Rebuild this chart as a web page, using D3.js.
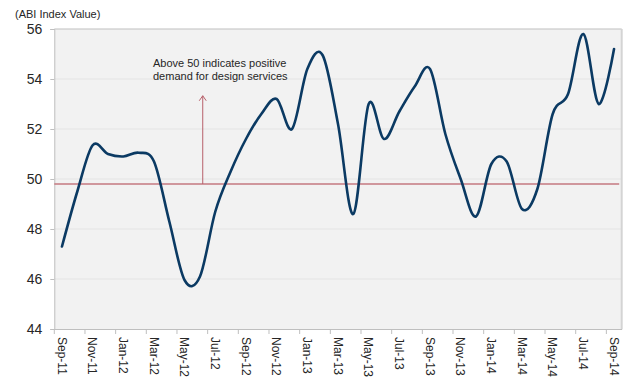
<!DOCTYPE html>
<html>
<head>
<meta charset="utf-8">
<script src="https://cdn.jsdelivr.net/npm/d3@7"></script>
<style>
	body { margin: 0; background: #fff; }
	svg { display: block; }
	.y.axis text { font-family: "Liberation Sans", Arial, sans-serif; font-size: 14px; fill: #262626; }
	.x.axis text { font-family: "Liberation Sans", Arial, sans-serif; font-size: 12px; fill: #262626; }
	.note { font-family: "Liberation Sans", Arial, sans-serif; font-size: 11px; fill: #262626; }
</style>
</head>
<body>
<div id="chart"></div>
<script>

// monthly categories
var months = ["Sep-11", "Oct-11", "Nov-11", "Dec-11", "Jan-12", "Feb-12", "Mar-12", "Apr-12",
	"May-12", "Jun-12", "Jul-12", "Aug-12", "Sep-12", "Oct-12", "Nov-12", "Dec-12",
	"Jan-13", "Feb-13", "Mar-13", "Apr-13", "May-13", "Jun-13", "Jul-13", "Aug-13",
	"Sep-13", "Oct-13", "Nov-13", "Dec-13", "Jan-14", "Feb-14", "Mar-14", "Apr-14",
	"May-14", "Jun-14", "Jul-14", "Aug-14", "Sep-14"];

// ABI index value
var abiValues = [47.3, 49.5, 51.35, 51.0, 50.9, 51.05, 50.7, 48.3,
	45.95, 46.1, 48.7, 50.3, 51.6, 52.6, 53.2, 52.0,
	54.4, 54.95, 52.2, 48.6, 53.0, 51.6, 52.7, 53.7,
	54.4, 51.8, 50.0, 48.5, 50.6, 50.7, 48.8, 49.6,
	52.6, 53.4, 55.8, 53.0, 55.2];

// every other month gets a tick label
var tickLabels = ["Sep-11", "Nov-11", "Jan-12", "Mar-12", "May-12", "Jul-12", "Sep-12",
	"Nov-12", "Jan-13", "Mar-13", "May-13", "Jul-13", "Sep-13", "Nov-13", "Jan-14",
	"Mar-14", "May-14", "Jul-14", "Sep-14"];

var yTicks = [44, 46, 48, 50, 52, 54, 56];
var thresholdValue = 49.8;

var noteLines = ["Above 50 indicates positive", "demand for design services"];

var width = 629, height = 381;
var margin = {top: 29, right: 7.3, bottom: 52, left: 54.3};

var svg = d3.select("#chart").append("svg")
	.attr("width", width)
	.attr("height", height);

var x = d3.scaleBand()
	.domain(months)
	.range([margin.left, width - margin.right])
	.padding(0);

var y = d3.scaleLinear()
	.domain([44, 56])
	.range([height - margin.bottom, margin.top]);

var bw = x.bandwidth();

// plot area background
svg.append("rect")
	.attr("x", margin.left)
	.attr("y", margin.top)
	.attr("width", width - margin.left - margin.right)
	.attr("height", height - margin.top - margin.bottom)
	.attr("fill", "#f2f2f2");

// gridlines
svg.append("g")
	.selectAll("line")
	.data(yTicks.slice(1, -1))
	.enter()
	.append("line")
	.attr("x1", margin.left)
	.attr("x2", width - margin.right)
	.attr("y1", function(d) { return y(d); })
	.attr("y2", function(d) { return y(d); })
	.attr("stroke", "#e4e4e4")
	.attr("stroke-width", 1);

// top and right border
svg.append("line")
	.attr("x1", margin.left).attr("x2", width - margin.right)
	.attr("y1", margin.top).attr("y2", margin.top)
	.attr("stroke", "#bfbfbf");
svg.append("line")
	.attr("x1", width - margin.right).attr("x2", width - margin.right)
	.attr("y1", margin.top).attr("y2", height - margin.bottom)
	.attr("stroke", "#d4d4d4")
	.attr("stroke-width", 2);

// y axis
var yAxis = d3.axisLeft(y).tickValues(yTicks).tickSize(4).tickPadding(8);
var yG = svg.append("g")
	.attr("class", "y axis")
	.attr("transform", "translate(" + margin.left + ",0)")
	.call(yAxis);
yG.select(".domain").attr("stroke", "#bfbfbf");
yG.selectAll(".tick line").attr("stroke", "#bfbfbf");

// x axis: ticks on category boundaries, labels centred on the month
var xAxis = d3.axisBottom(x).tickValues(tickLabels).tickSize(5).tickPadding(0).tickSizeOuter(0);
var xG = svg.append("g")
	.attr("class", "x axis")
	.attr("transform", "translate(0," + (height - margin.bottom) + ")")
	.call(xAxis);
xG.select(".domain").attr("stroke", "#bfbfbf");
xG.selectAll(".tick line")
	.attr("stroke", "#bfbfbf")
	.attr("x1", -bw / 2)
	.attr("x2", -bw / 2);
xG.selectAll(".tick text")
	.attr("text-anchor", "start")
	.attr("transform", "translate(0,8) rotate(90)")
	.attr("x", 0)
	.attr("y", 0)
	.attr("dy", "0.35em");

// threshold line
svg.append("line")
	.attr("x1", margin.left)
	.attr("x2", width - margin.right - 2.5)
	.attr("y1", y(thresholdValue))
	.attr("y2", y(thresholdValue))
	.attr("stroke", "#c47880")
	.attr("stroke-width", 1.6);

// annotation arrow
var arrowX = x("Jun-12") + bw * 0.68;
var arrowTop = y(53.33);
svg.append("line")
	.attr("x1", arrowX).attr("x2", arrowX)
	.attr("y1", y(thresholdValue)).attr("y2", arrowTop)
	.attr("stroke", "#b8606a")
	.attr("stroke-width", 1);
svg.append("path")
	.attr("d", "M" + (arrowX - 3.5) + "," + (arrowTop + 5) + "L" + arrowX + "," + arrowTop + "L" + (arrowX + 3.5) + "," + (arrowTop + 5))
	.attr("fill", "none")
	.attr("stroke", "#b8606a")
	.attr("stroke-width", 1);

// annotation text
svg.append("text")
	.attr("class", "note")
	.attr("x", x("Mar-12") + 6.7)
	.attr("y", 66.7)
	.selectAll("tspan")
	.data(noteLines)
	.enter()
	.append("tspan")
	.attr("x", x("Mar-12") + 6.7)
	.attr("dy", function(d, i) { return i === 0 ? 0 : 13; })
	.text(function(d) { return d; });

// series line
var line = d3.line()
	.x(function(d, i) { return x(months[i]) + bw / 2; })
	.y(function(d) { return y(d); })
	.curve(d3.curveCatmullRom.alpha(0));

svg.append("path")
	.datum(abiValues)
	.attr("d", line)
	.attr("fill", "none")
	.attr("stroke", "#0b3a63")
	.attr("stroke-width", 2.6)
	.attr("stroke-linecap", "round")
	.attr("stroke-linejoin", "round");

// axis title
svg.append("text")
	.attr("class", "note")
	.attr("x", 15)
	.attr("y", 17.5)
	.text("(ABI Index Value)");

</script>
</body>
</html>
